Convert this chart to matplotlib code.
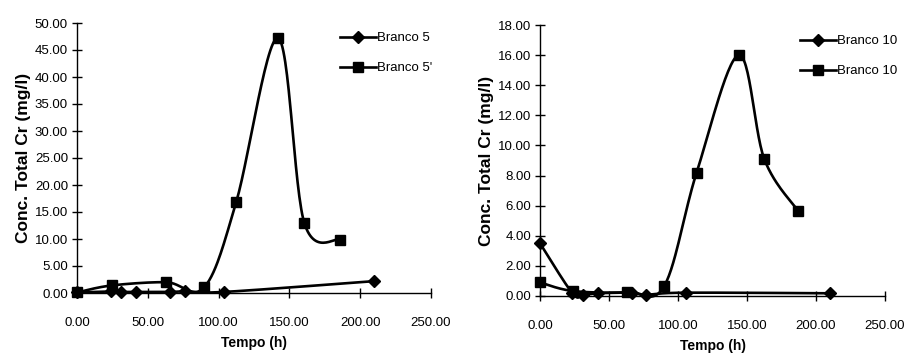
import numpy as np
import matplotlib
matplotlib.use("Agg")
import matplotlib.pyplot as plt

plt.rcParams['font.family'] = ['Liberation Sans', 'DejaVu Sans']

# ---- data ----
t5_d = [0, 24, 31, 42, 66, 76, 104, 210]
b5_d = [0.1, 0.3, 0.2, 0.2, 0.2, 0.3, 0.2, 2.2]
t5_s = [0, 24.5, 63, 90, 112.5, 142, 160.5, 186]
b5_s = [0.1, 1.4, 2.0, 1.1, 16.9, 47.2, 13.0, 9.9]

t10_d = [0, 23.5, 31, 42, 67, 77, 105.5, 210]
b10_d = [3.5, 0.18, 0.07, 0.18, 0.22, 0.09, 0.22, 0.18]
t10_s = [0, 24, 63, 90, 113.5, 144, 162.5, 187]
b10_s = [0.9, 0.33, 0.25, 0.66, 8.2, 16.0, 9.1, 5.65]

xticks = [0, 50, 100, 150, 200, 250]
yticks5 = list(range(0, 51, 5))
yticks10 = list(range(0, 19, 2))


def smooth(x, y, n=30):
    x = np.asarray(x, float); y = np.asarray(y, float)
    P = np.column_stack([x, y])
    P = np.vstack([P[0], P, P[-1]])
    out = []
    for i in range(1, len(P) - 2):
        p0, p1, p2, p3 = P[i - 1], P[i], P[i + 1], P[i + 2]
        t = np.linspace(0, 1, n)[:, None]
        seg = 0.5 * ((2 * p1) + (-p0 + p2) * t + (2 * p0 - 5 * p1 + 4 * p2 - p3) * t ** 2
                     + (-p0 + 3 * p1 - 3 * p2 + p3) * t ** 3)
        out.append(seg)
    s = np.vstack(out)
    return s[:, 0], s[:, 1]


fig = plt.figure(figsize=(9.08, 3.54), dpi=100)
W, H = 908, 354
ax1 = fig.add_axes([77 / W, 1 - 293 / H, (431 - 77) / W, (293 - 23) / H])
ax2 = fig.add_axes([540 / W, 1 - 296 / H, (885 - 540) / W, (296 - 25) / H])


def draw(ax, td, vd, ts, vs, ymax, yticks, labd, labs, legx, legy):
    xs, ys = smooth(td, vd)
    ax.plot(xs, ys, color='black', lw=1.9, zorder=2)
    ax.plot(td, vd, ls='none', marker='D', ms=6.5, color='black', zorder=3)
    xs, ys = smooth(ts, vs)
    ax.plot(xs, ys, color='black', lw=1.9, zorder=2)
    ax.plot(ts, vs, ls='none', marker='s', ms=7, color='black', zorder=3)
    hd, = ax.plot([], [], color='black', lw=1.9, marker='D', ms=6.5)
    hs, = ax.plot([], [], color='black', lw=1.9, marker='s', ms=7)
    ax.set_xlim(0, 250)
    ax.set_ylim(0, ymax)
    ax.set_xticks(xticks)
    ax.set_xticklabels([f"{v:.2f}" for v in xticks])
    ax.set_yticks(yticks)
    ax.set_yticklabels([f"{v:.2f}" for v in yticks])
    for s in ['top', 'right']:
        ax.spines[s].set_visible(False)
    for s in ['left', 'bottom']:
        ax.spines[s].set_linewidth(1.0)
    ax.tick_params(direction='inout', length=7, width=1, labelsize=9.5, pad=3)
    ax.tick_params(axis='x', pad=14)
    ax.set_xlabel('Tempo (h)', fontsize=10, fontweight='bold', labelpad=5)
    ax.set_ylabel('Conc. Total Cr (mg/l)', fontsize=12.5, fontweight='bold', labelpad=3)
    ax.patch.set_alpha(0)
    fig.legend([hd, hs], [labd, labs], loc='upper left',
               bbox_to_anchor=(legx / W, 1 - legy / H),
               frameon=False, fontsize=9.5, handlelength=2.7, handletextpad=0.1,
               labelspacing=1.35, borderaxespad=0, borderpad=0)
    for lab in ax.get_xticklabels() + ax.get_yticklabels():
        lab.set_clip_on(False)


draw(ax1, t5_d, b5_d, t5_s, b5_s, 50, yticks5, 'Branco 5', "Branco 5'", 340, 32)
draw(ax2, t10_d, b10_d, t10_s, b10_s, 18, yticks10, 'Branco 10', 'Branco 10', 800, 35)
for ax in (ax1, ax2):
    for ln in ax.lines:
        ln.set_clip_on(False)

fig.savefig('out.png', dpi=100)
